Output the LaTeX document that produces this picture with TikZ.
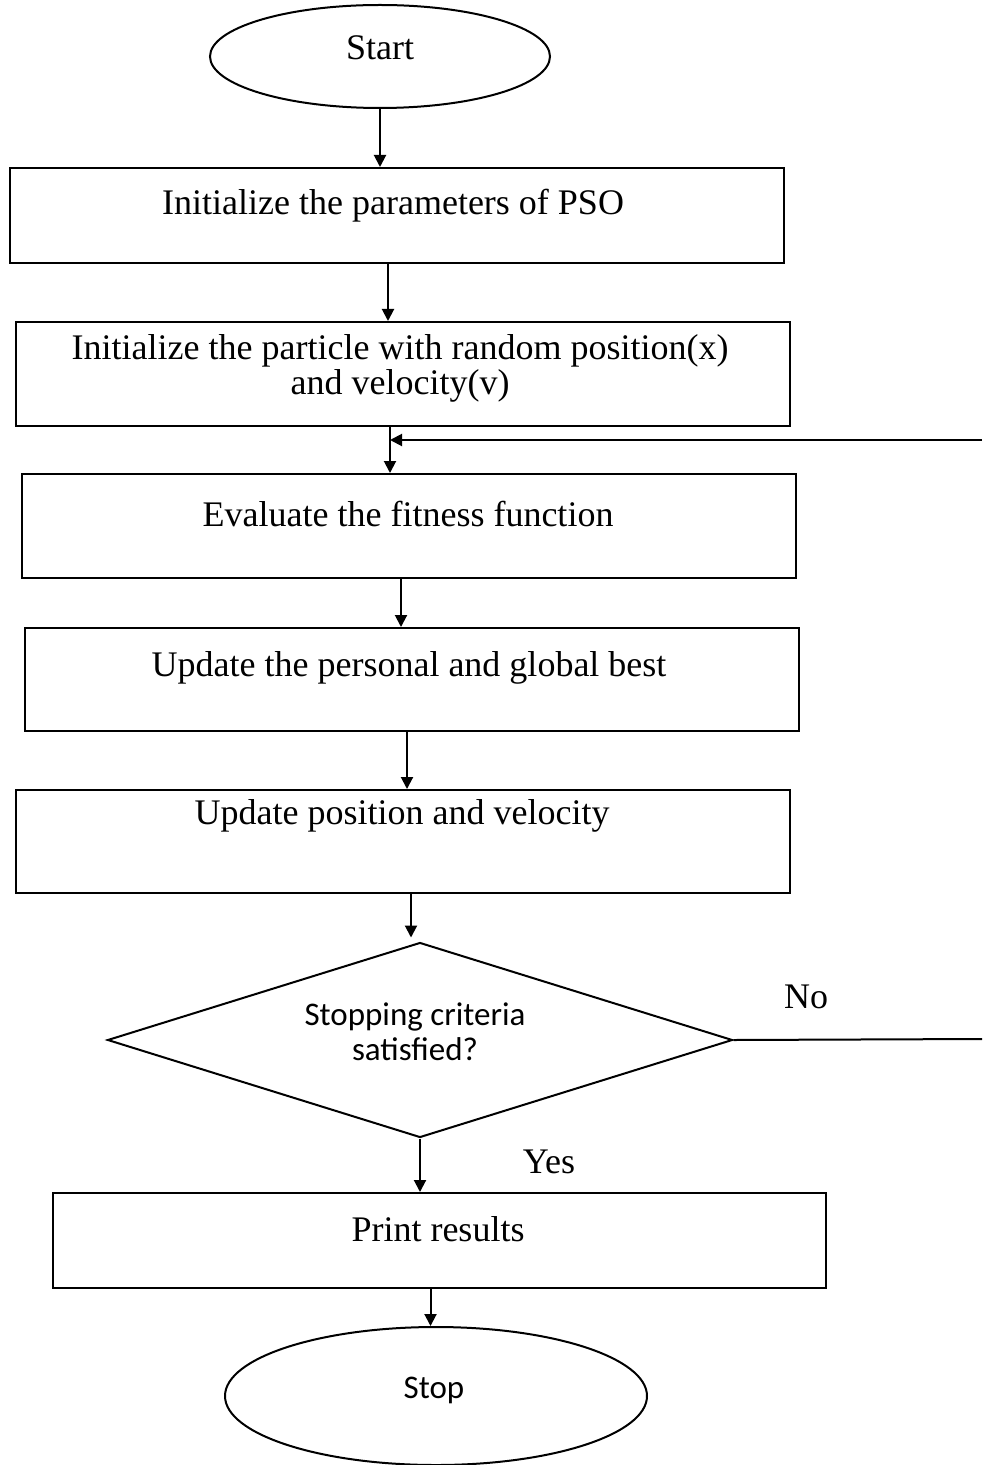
\documentclass[tikz,border=0pt]{standalone}
\usepackage{fontspec}
\setmainfont{Liberation Serif}
\newfontfamily\calfont{Carlito}
\usetikzlibrary{shapes.geometric,arrows.meta,calc}

\tikzset{
  line/.style={line width=1pt, draw=black},
  arr/.style={line, -{Triangle[length=6pt,width=6pt]}},
  procbox/.style={draw, line width=1pt, minimum width=387pt, inner sep=0pt},
  term/.style={draw, ellipse, line width=1pt, inner sep=0pt},
  decide/.style={draw, diamond, line width=1pt, inner sep=0pt},
  lbl/.style={inner sep=0pt, align=center, font=\fontsize{18}{17.5}\selectfont},
  slbl/.style={inner sep=0pt, align=center, font=\calfont\fontsize{16.5}{17.5}\selectfont},
}

\begin{document}
\begin{tikzpicture}[x=0.5pt, y=-0.5pt]
  % page area
  \fill[white] (0,0) rectangle (982,1465);
  \useasboundingbox (0,0) rectangle (982,1465);

  % terminals, process boxes and the decision
  \node[term, minimum width=170pt, minimum height=51.5pt] (start) at (380,56.5) {};
  \node[procbox, minimum height=47.5pt] (b1) at (397,215.5) {};
  \node[procbox, minimum height=52pt]   (b2) at (403,374) {};
  \node[procbox, minimum height=52pt]   (b3) at (409,526) {};
  \node[procbox, minimum height=51.5pt] (b4) at (412,679.5) {};
  \node[procbox, minimum height=51.5pt] (b5) at (403,841.5) {};
  \node[decide, minimum width=312.5pt, minimum height=97.5pt] (dec) at (420,1040) {};
  \node[procbox, minimum width=386.5pt, minimum height=47.5pt] (b6) at (439.5,1240.5) {};
  \node[term, minimum width=211pt, minimum height=69pt] (stop) at (436,1396) {};

  % texts
  \node[lbl] (tstart) at (380,48) {Start};
  \node[lbl] (t1) at (393,206) {Initialize the parameters of PSO};
  \node[lbl] (t2) at (400,368) {Initialize the particle with random position(x)\\and velocity(v)};
  \node[lbl] (t3) at (408,514) {Evaluate the fitness function};
  \node[lbl] (t4) at (409,668) {Update the personal and global best};
  \node[lbl] (t5) at (402,816) {Update position and velocity};
  \node[slbl] (tdec) at (415,1032) {Stopping criteria\\satisfied?};
  \node[lbl] (t6) at (438,1229) {Print results};
  \node[slbl] (tstop) at (434,1390) {Stop};
  \node[lbl] (no) at (806,997) {No};
  \node[lbl] (yes) at (549,1162) {Yes};

  % connectors
  \draw[arr] (start.south) -- (start.south |- b1.north);
  \coordinate (c2) at ($(b1.south)+(-9,0)$);
  \draw[arr] (c2) -- (c2 |- b2.north);
  \coordinate (c3) at ($(b2.south)+(-13,0)$);
  \draw[arr] (c3) -- (c3 |- b3.north);
  \coordinate (c4) at ($(b3.south)+(-8,0)$);
  \draw[arr] (c4) -- (c4 |- b4.north);
  \coordinate (c5) at ($(b4.south)+(-5,0)$);
  \draw[arr] (c5) -- (c5 |- b5.north);
  \coordinate (c6) at ($(b5.south)+(8,0)$);
  \draw[arr] (c6) -- ($(c6 |- dec.north)+(0,-4)$);
  \draw[arr] (dec.south) -- (dec.south |- b6.north);
  \coordinate (c8) at ($(b6.south)+(-9,0)$);
  \draw[arr] (c8) -- (c8 |- stop.north);

  % loop back when the criteria are not met
  \coordinate (ne) at (982,1039);
  \coordinate (fb) at (982,440);
  \draw[line] (dec.east) -- (ne);
  \draw[arr] (fb) -- (fb -| c3);
\end{tikzpicture}
\end{document}
